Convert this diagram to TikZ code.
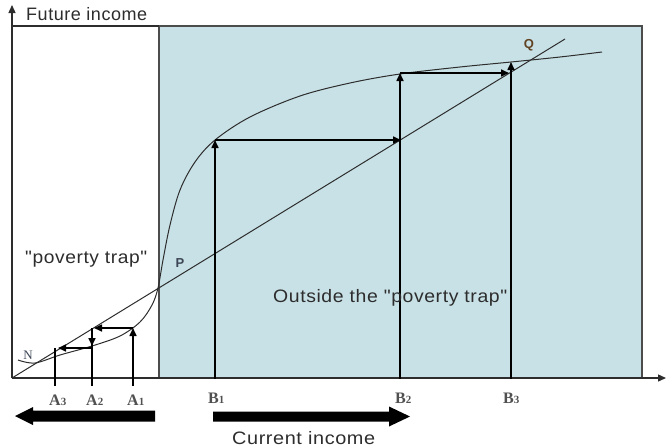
\documentclass[tikz,border=0pt]{standalone}
\usepackage{fontspec}
\usepackage{graphicx}
\setmainfont{Liberation Sans}
\newfontfamily\labfont[LetterSpace=3]{Liberation Sans}
\newfontfamily\serlab{Liberation Serif}
\usetikzlibrary{arrows.meta}
\definecolor{shade}{RGB}{200,225,230}
\definecolor{ink}{RGB}{45,45,45}
\definecolor{sgray}{RGB}{80,80,80}
\definecolor{plab}{RGB}{60,70,85}
\newcommand{\fitw}[2]{\resizebox{#1}{\height}{#2}}
\begin{document}
\begin{tikzpicture}[x=1pt,y=-1pt,
  axis/.style={draw=ink, line width=1.3pt},
  thinline/.style={draw=ink, line width=1pt},
  cob/.style={draw=black, line width=1.6pt, -{Triangle[length=8pt,width=7pt]}},
  cobplain/.style={draw=black, line width=1.6pt},
  txt/.style={font=\labfont\fontsize{18}{18}\selectfont, text=ink, inner sep=0pt, anchor=base west},
  ptlab/.style={font=\bfseries\fontsize{13}{13}\selectfont, text=plab, inner sep=0pt},
  serl/.style={font=\serlab\bfseries\fontsize{16}{16}\selectfont, text=sgray, inner sep=0pt, anchor=base west},
  bigarrow/.style={fill=black}
]
\useasboundingbox (0,0) rectangle (668,447);
% shaded region
\draw[fill=shade, draw=ink!85, line width=1.3pt] (159,26) rectangle (642,378);
\draw[axis] (12,26) -- (159,26);
% axes
\coordinate (O) at (12,378);
\coordinate (Ytop) at (12,5);
\coordinate (Xend) at (666,378);
\draw[axis, -{Triangle[length=8pt,width=7pt]}] (O) -- (Ytop);
\draw[axis, -{Triangle[length=8pt,width=7pt]}] (O) -- (Xend);
% straight line through N, P, Q
\coordinate (Lend) at (565,39);
\draw[thinline] (O) -- (Lend);
% S-curve
\draw[thinline] plot[smooth, tension=0.55] coordinates {
 (18,360) (35,363) (60,355) (92,346) (120,336) (140,322) (152,305) (158,288)
 (163,260) (170,225) (180,190) (195,162) (215,140) (250,117) (300,96)
 (350,83) (400,74) (460,67) (511,62) (560,57) (602,52)};
% cobweb below P
\coordinate (a1b) at (133,386);
\coordinate (a1t) at (133,328);
\coordinate (a1l) at (94,328);
\coordinate (a2b) at (92,386);
\coordinate (a2t) at (92,328);
\coordinate (a2c) at (92,346);
\coordinate (a2h) at (92,348);
\coordinate (a3t) at (58,348);
\coordinate (a3b) at (55,386);
\coordinate (a3e) at (55,348);
\draw[cob] (a1b) -- (a1t);
\draw[cob] (a1t) -- (a1l);
\draw[cobplain] (a2b) -- (a2t);
\draw[cob] (a2t) -- (a2c);
\draw[cob] (a2h) -- (a3t);
\draw[cobplain] (a3b) -- (a3e);
% cobweb above P
\coordinate (b1b) at (215,379);
\coordinate (b1t) at (215,140);
\coordinate (b1r) at (401,140);
\coordinate (b2b) at (400,379);
\coordinate (b2t) at (400,73);
\coordinate (b2r) at (509,73);
\coordinate (b3b) at (511,379);
\coordinate (b3t) at (511,62);
\draw[cob] (b1b) -- (b1t);
\draw[cob] (b1t) -- (b1r);
\draw[cob] (b2b) -- (b2t);
\draw[cob] (b2t) -- (b2r);
\draw[cob] (b3b) -- (b3t);
% thick arrows
\fill[bigarrow] (155,410.5) -- (33,410.5) -- (33,407) -- (15,416) -- (33,425) -- (33,421.5) -- (155,421.5) -- cycle;
\fill[bigarrow] (213,411.5) -- (389,411.5) -- (389,406.5) -- (410,416.5) -- (389,426.5) -- (389,421.5) -- (213,421.5) -- cycle;
% texts
\node[txt] (fut) at (26,20) {\fitw{121pt}{Future income}};
\node[txt] (pov) at (25,263) {\fitw{122pt}{"poverty trap"}};
\node[txt] (out) at (273,302) {\fitw{234pt}{Outside the "poverty trap"}};
\node[txt] (cur) at (232,444) {\fitw{143pt}{Current income}};
\node[ptlab] (P) at (180,263) {P};
\node[ptlab, text=ink!75!orange] (Q) at (529,45) {Q};
\node[ptlab, font=\serlab\fontsize{13}{13}\selectfont] (N) at (28,355) {N};
\node[serl] (A3) at (49,405) {A{\fontsize{11}{11}\selectfont 3}};
\node[serl] (A2) at (86,405) {A{\fontsize{11}{11}\selectfont 2}};
\node[serl] (A1) at (127,405) {A{\fontsize{11}{11}\selectfont 1}};
\node[serl] (B1) at (208,403) {B{\fontsize{11}{11}\selectfont 1}};
\node[serl] (B2) at (395,403) {B{\fontsize{11}{11}\selectfont 2}};
\node[serl] (B3) at (503,403) {B{\fontsize{11}{11}\selectfont 3}};
\end{tikzpicture}
\end{document}
